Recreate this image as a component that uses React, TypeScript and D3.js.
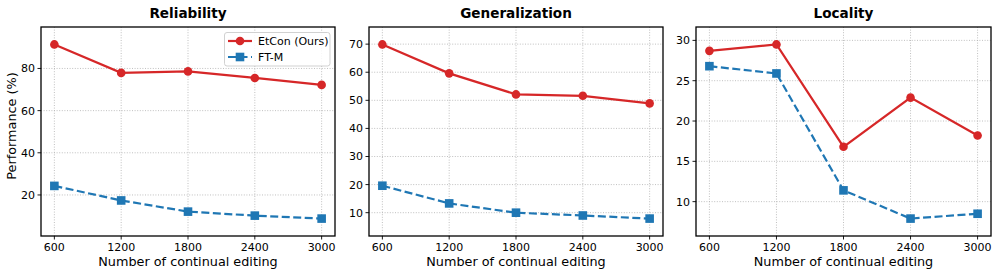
import React from "react";
import * as d3 from "d3";

const steps = [600, 1200, 1800, 2400, 3000];
const titles = ["Reliability", "Generalization", "Locality"];
const etconReliability = [91.4, 77.9, 78.6, 75.5, 72.2];
const ftmReliability = [24.3, 17.4, 12.1, 10.2, 8.8];
const etconGeneralization = [69.9, 59.6, 52.1, 51.6, 48.9];
const ftmGeneralization = [19.6, 13.3, 10.0, 9.0, 7.9];
const etconLocality = [28.7, 29.5, 16.8, 22.9, 18.2];
const ftmLocality = [26.8, 25.9, 11.4, 7.9, 8.5];
const yTicks = [
  [20, 40, 60, 80],
  [10, 20, 30, 40, 50, 60, 70],
  [10, 15, 20, 25, 30],
];
const seriesNames = ["EtCon (Ours)", "FT-M"];

const RED = "#d62728";
const BLUE = "#1f77b4";
const FONT = "DejaVu Sans, sans-serif";

const panels = [
  { x0: 41, x1: 335, a: etconReliability, b: ftmReliability },
  { x0: 369, x1: 663, a: etconGeneralization, b: ftmGeneralization },
  { x0: 696, x1: 991, a: etconLocality, b: ftmLocality },
];
const TOP = 27;
const BOTTOM = 236;

function Panel({ idx }: { idx: number }) {
  const p = panels[idx];
  const span = 2400;
  const xs = d3
    .scaleLinear()
    .domain([600 - span * 0.05, 3000 + span * 0.05])
    .range([p.x0, p.x1]);
  const all = [...p.a, ...p.b];
  const mn = d3.min(all)!, mx = d3.max(all)!;
  const pad = (mx - mn) * 0.1;
  const ys = d3.scaleLinear().domain([mn - pad, mx + pad]).range([BOTTOM, TOP]);
  const line = d3
    .line<number>()
    .x((_, i) => xs(steps[i]))
    .y((d) => ys(d));
  const cx = (p.x0 + p.x1) / 2;
  return (
    <g>
      {steps.map((s) => (
        <line key={"gx" + s} x1={xs(s)} x2={xs(s)} y1={TOP} y2={BOTTOM} stroke="#b0b0b0" strokeWidth={0.8} strokeDasharray="1,1.6" />
      ))}
      {yTicks[idx].map((t) => (
        <line key={"gy" + t} x1={p.x0} x2={p.x1} y1={ys(t)} y2={ys(t)} stroke="#b0b0b0" strokeWidth={0.8} strokeDasharray="1,1.6" />
      ))}
      <path d={line(p.a)!} fill="none" stroke={RED} strokeWidth={2.2} />
      <path d={line(p.b)!} fill="none" stroke={BLUE} strokeWidth={2.2} strokeDasharray="8,3.5" />
      {p.a.map((v, i) => (
        <circle key={"a" + i} cx={xs(steps[i])} cy={ys(v)} r={4.3} fill={RED} />
      ))}
      {p.b.map((v, i) => (
        <rect key={"b" + i} x={xs(steps[i]) - 4.3} y={ys(v) - 4.3} width={8.6} height={8.6} fill={BLUE} />
      ))}
      <rect x={p.x0} y={TOP} width={p.x1 - p.x0} height={BOTTOM - TOP} fill="none" stroke="#000" strokeWidth={1.3} />
      {steps.map((s) => (
        <g key={"xt" + s}>
          <line x1={xs(s)} x2={xs(s)} y1={BOTTOM} y2={BOTTOM + 3.5} stroke="#000" strokeWidth={0.9} />
          <text x={xs(s)} y={BOTTOM + 15} textAnchor="middle" fontSize={11} fontFamily={FONT} fill="#000">{s}</text>
        </g>
      ))}
      {yTicks[idx].map((t) => (
        <g key={"yt" + t}>
          <line x1={p.x0 - 3.5} x2={p.x0} y1={ys(t)} y2={ys(t)} stroke="#000" strokeWidth={0.9} />
          <text x={p.x0 - 6} y={ys(t)} dy="0.36em" textAnchor="end" fontSize={11} fontFamily={FONT} fill="#000">{t}</text>
        </g>
      ))}
      <text x={cx} y={266} textAnchor="middle" fontSize={12.8} fontFamily={FONT} fill="#000">Number of continual editing</text>
      <text x={cx} y={18} textAnchor="middle" fontSize={13.6} fontWeight="bold" fontFamily={FONT} fill="#000">{titles[idx]}</text>
    </g>
  );
}

export default function App() {
  return (
    <svg width={997} height={274} style={{ position: "absolute", left: 0, top: 0, background: "#fff" }}>
      <rect width={997} height={274} fill="#fff" />
      {panels.map((_, i) => (
        <Panel key={i} idx={i} />
      ))}
      <text transform="translate(16,126) rotate(-90)" textAnchor="middle" fontSize={12.8} fontFamily={FONT} fill="#000">Performance (%)</text>
      <g>
        <rect x={224.5} y={32.5} width={105.5} height={33.5} rx={2.5} fill="#fff" fillOpacity={0.85} stroke="#cccccc" strokeWidth={0.9} />
        <line x1={228} x2={252} y1={41} y2={41} stroke={RED} strokeWidth={2.2} />
        <circle cx={240} cy={41} r={4.3} fill={RED} />
        <text x={258} y={41} dy="0.36em" fontSize={11} fontFamily={FONT}>{seriesNames[0]}</text>
        <line x1={228} x2={252} y1={57} y2={57} stroke={BLUE} strokeWidth={2.2} strokeDasharray="8,3.5" />
        <rect x={240 - 4.3} y={57 - 4.3} width={8.6} height={8.6} fill={BLUE} />
        <text x={258} y={57} dy="0.36em" fontSize={11} fontFamily={FONT}>{seriesNames[1]}</text>
      </g>
    </svg>
  );
}
